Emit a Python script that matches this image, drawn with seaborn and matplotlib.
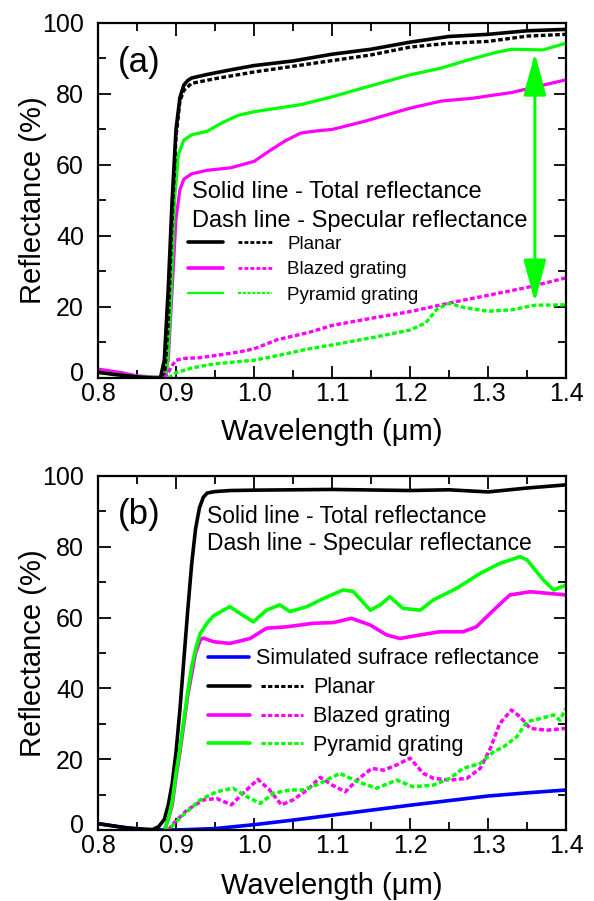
import matplotlib
matplotlib.use("Agg")
import matplotlib.pyplot as plt
import matplotlib.transforms as mtransforms
import seaborn as sns
from matplotlib.lines import Line2D
from matplotlib.legend_handler import HandlerTuple
from matplotlib.ticker import MultipleLocator, FormatStrFormatter

# =============================
# DATA
# =============================
# panel (a)
a_planar_tot_wl = [0.80, 0.82, 0.85, 0.87, 0.880, 0.885, 0.890, 0.895, 0.900, 0.905, 0.910, 0.915,
                   0.92, 0.94, 0.97, 1.00, 1.05, 1.10, 1.15, 1.20, 1.25, 1.30, 1.35, 1.40]
a_planar_tot = [1.6, 1.0, 0.3, 0.0, 0.0, 5, 25, 50, 70, 79, 82.5, 83.8,
                84.5, 85.5, 86.8, 88.0, 89.3, 91.2, 92.6, 94.6, 96.2, 96.8, 97.8, 98.2]

a_planar_spec_wl = [0.885, 0.890, 0.895, 0.900, 0.905, 0.910, 0.920, 0.950, 1.00, 1.05, 1.10,
                    1.15, 1.20, 1.25, 1.30, 1.35, 1.40]
a_planar_spec = [0, 15, 45, 68, 78, 81, 83, 84.3, 86.2, 87.8, 89.4, 91, 93.2, 94.3, 94.8, 96.3, 96.8]

a_blazed_tot_wl = [0.80, 0.83, 0.85, 0.87, 0.885, 0.890, 0.895, 0.900, 0.905, 0.910, 0.92, 0.94,
                   0.97, 1.00, 1.02, 1.04, 1.06, 1.08, 1.10, 1.14, 1.20, 1.24, 1.28, 1.33, 1.40]
a_blazed_tot = [2.5, 1.5, 0.6, 0.3, 0.2, 5, 25, 45, 53, 56, 57.5, 58.5,
                59.2, 61, 64, 66.8, 69, 69.6, 70, 72.2, 76, 78, 78.8, 80.4, 84]

a_blazed_spec_wl = [0.885, 0.890, 0.895, 0.90, 0.91, 0.93, 0.95, 0.98, 1.00, 1.03, 1.07, 1.10,
                    1.15, 1.20, 1.25, 1.30, 1.35, 1.40]
a_blazed_spec = [0, 1.5, 3.5, 5, 5.5, 5.7, 6.3, 7.3, 8.2, 10.8, 12.8, 14.8,
                 16.8, 18.7, 21.1, 23.3, 25.5, 28.2]

a_pyramid_tot_wl = [0.80, 0.85, 0.88, 0.888, 0.893, 0.898, 0.903, 0.91, 0.92, 0.94, 0.96, 0.98,
                    1.00, 1.03, 1.06, 1.10, 1.14, 1.20, 1.24, 1.27, 1.31, 1.33, 1.37, 1.40]
a_pyramid_tot = [1.6, 0.4, 0.1, 1, 20, 50, 63, 67, 68.5, 69.5, 72, 74,
                 75, 76, 77, 79.2, 81.7, 85.4, 87.3, 89.3, 91.7, 92.6, 92.4, 94.3]

a_pyramid_spec_wl = [0.89, 0.90, 0.92, 0.95, 1.00, 1.03, 1.07, 1.10, 1.15, 1.20, 1.22, 1.235,
                     1.25, 1.27, 1.30, 1.33, 1.36, 1.40]
a_pyramid_spec = [0, 1.5, 2.8, 4.0, 5.0, 6.3, 8.2, 9.3, 11.3, 13.5, 15.5, 19.5,
                  21, 19.8, 18.8, 19.2, 20.5, 20.6]

# arrow marking the pyramid-grating diffuse part
arrow_wl = 1.36
arrow_low, arrow_high = 21.4, 91.5

# panel (b)
b_sim_wl = [0.80, 0.83, 0.86, 0.90, 0.95, 1.00, 1.05, 1.10, 1.15, 1.20, 1.25, 1.30, 1.35, 1.40]
b_sim = [1.8, 0.8, 0.1, 0.0, 0.4, 1.5, 2.8, 4.2, 5.6, 7.0, 8.3, 9.6, 10.5, 11.3]

b_planar_tot_wl = [0.80, 0.84, 0.87, 0.878, 0.885, 0.89, 0.895, 0.90, 0.905, 0.91, 0.915, 0.92,
                   0.925, 0.93, 0.935, 0.94, 0.95, 0.97, 1.00, 1.10, 1.20, 1.25, 1.30, 1.35, 1.40]
b_planar_tot = [1.8, 0.5, 0.1, 1, 3, 7, 13, 22, 34, 48, 62, 75,
                85, 91, 94, 95.2, 95.6, 95.9, 96.0, 96.2, 95.9, 96.1, 95.5, 96.6, 97.5]

b_blazed_tot_wl = [0.885, 0.89, 0.895, 0.90, 0.905, 0.91, 0.915, 0.92, 0.925, 0.931, 0.935, 0.948,
                   0.969, 0.995, 1.016, 1.042, 1.076, 1.102, 1.125, 1.149, 1.170, 1.187, 1.213,
                   1.238, 1.268, 1.285, 1.307, 1.328, 1.354, 1.40]
b_blazed_tot = [0, 3, 7, 15, 22, 30, 38, 44, 50, 53.7, 54.2, 53.2,
                52.7, 54.1, 57.0, 57.4, 58.4, 58.6, 59.8, 57.9, 55.1, 54.1, 55.1,
                56.0, 56.0, 57.4, 62.1, 66.4, 67.3, 66.4]

b_pyramid_tot_wl = [0.885, 0.89, 0.895, 0.90, 0.905, 0.91, 0.915, 0.92, 0.925, 0.931, 0.94, 0.948,
                    0.969, 0.982, 0.999, 1.016, 1.033, 1.046, 1.068, 1.089, 1.114, 1.127, 1.149,
                    1.162, 1.174, 1.191, 1.213, 1.230, 1.260, 1.290, 1.315, 1.341, 1.350, 1.371,
                    1.384, 1.40]
b_pyramid_tot = [0, 3, 8, 16, 23, 31, 39, 46, 51, 55.5, 58.5, 60.5,
                 63.1, 61.2, 58.8, 62.1, 63.6, 61.7, 63.1, 65.4, 67.8, 67.4, 62.1,
                 63.6, 65.9, 62.6, 62.1, 65.0, 68.3, 72.5, 75.3, 77.2, 76.3, 70.6,
                 67.8, 69.2]

b_blazed_spec_wl = [0.89, 0.897, 0.914, 0.935, 0.952, 0.971, 0.986, 1.005, 1.020, 1.035, 1.050,
                    1.068, 1.085, 1.100, 1.117, 1.132, 1.151, 1.166, 1.183, 1.200, 1.217, 1.230,
                    1.251, 1.273, 1.290, 1.303, 1.315, 1.330, 1.341, 1.354, 1.375, 1.40]
b_blazed_spec = [0, 1.9, 5.6, 8.5, 8.9, 7.1, 10.4, 14.3, 11.3, 7.1, 8.5,
                 11.3, 14.9, 12.7, 10.8, 14.1, 17.4, 16.9, 18.4, 20.3, 16.0, 14.6,
                 14.1, 14.6, 17.4, 23.1, 30.1, 33.9, 32.0, 28.7, 28.2, 28.7]

b_pyramid_spec_wl = [0.885, 0.892, 0.909, 0.931, 0.952, 0.973, 0.991, 1.008, 1.025, 1.046, 1.063,
                     1.085, 1.110, 1.132, 1.157, 1.183, 1.204, 1.230, 1.251, 1.268, 1.290, 1.307,
                     1.320, 1.337, 1.350, 1.367, 1.384, 1.392, 1.40]
b_pyramid_spec = [0, 0.5, 4.2, 8.5, 10.8, 11.8, 9.4, 7.5, 10.4, 11.3, 11.3,
                  13.2, 16.0, 13.7, 11.8, 14.1, 12.2, 12.7, 14.6, 17.4, 18.8, 22.1,
                  23.5, 26.4, 30.6, 31.5, 32.5, 31.0, 34.4]

BLACK, MAGENTA, GREEN, BLUE = "black", "#ff00ff", "#00ff00", "#0000ff"
DASH = (0, (1.4, 0.75))

# =============================
# STYLE
# =============================
sns.set_style("ticks")
plt.rcParams["font.family"] = ["Liberation Sans", "DejaVu Sans"]
for key in ["text.color", "axes.labelcolor", "xtick.color", "ytick.color", "axes.edgecolor"]:
    plt.rcParams[key] = "black"


def draw(ax, wl, r, color, lw, dashed=False):
    sns.lineplot(x=wl, y=r, ax=ax, color=color, lw=lw, estimator=None, sort=False,
                 linestyle=DASH if dashed else "-")


def style_axes(ax, label_y):
    ax.set_xlim(0.8, 1.4)
    ax.set_ylim(0, 100)
    ax.xaxis.set_major_locator(MultipleLocator(0.1))
    ax.xaxis.set_minor_locator(MultipleLocator(0.05))
    ax.yaxis.set_major_locator(MultipleLocator(20))
    ax.yaxis.set_minor_locator(MultipleLocator(10))
    ax.xaxis.set_major_formatter(FormatStrFormatter("%.1f"))
    ax.tick_params(which="both", direction="in", top=True, right=True, width=1.3,
                   labelsize=18, color="black")
    ax.tick_params(which="major", length=9)
    ax.tick_params(which="minor", length=6)
    ax.tick_params(axis="x", pad=3)
    ax.tick_params(axis="y", pad=10)
    for s in ax.spines.values():
        s.set_linewidth(1.6)
        s.set_color("black")
    ax.set_xlabel("Wavelength (\u03bcm)", fontsize=21)
    ax.set_ylabel("Reflectance (%)", fontsize=21)
    ax.xaxis.set_label_coords(0.5, label_y)
    ax.yaxis.set_label_coords(-0.108, 0.5)


def lift_zero_label(ax):
    # the "0" on the y axis sits a little higher so it clears the "0.8" below it
    for tick in ax.yaxis.get_major_ticks():
        if abs(tick.get_loc()) < 1e-9:
            lab = tick.label1
            lab.set_transform(lab.get_transform() +
                              mtransforms.ScaledTranslation(0, 5 / 72, fig.dpi_scale_trans))


fig = plt.figure(figsize=(5.94, 9.01), dpi=100)
ax_a = fig.add_axes([0.165, 0.5805, 0.788, 0.394])
ax_b = fig.add_axes([0.165, 0.0788, 0.788, 0.3929])

# --------------------------------------
# PANEL (a)
# --------------------------------------
draw(ax_a, a_blazed_tot_wl, a_blazed_tot, MAGENTA, 2.3)
draw(ax_a, a_pyramid_tot_wl, a_pyramid_tot, GREEN, 2.3)
draw(ax_a, a_planar_tot_wl, a_planar_tot, BLACK, 2.6)
draw(ax_a, a_planar_spec_wl, a_planar_spec, BLACK, 2.4, dashed=True)
draw(ax_a, a_blazed_spec_wl, a_blazed_spec, MAGENTA, 2.4, dashed=True)
draw(ax_a, a_pyramid_spec_wl, a_pyramid_spec, GREEN, 2.4, dashed=True)

ax_a.annotate("", xy=(arrow_wl, arrow_low), xytext=(arrow_wl, arrow_high),
              arrowprops=dict(arrowstyle="<|-|>,head_length=1.3,head_width=0.35",
                              mutation_scale=20, color=GREEN, lw=2.2,
                              shrinkA=0, shrinkB=0))
style_axes(ax_a, -0.114)
ax_a.text(0.088, 0.89, "(a)", transform=ax_a.transAxes, fontsize=25,
          ha="center", va="center")
ax_a.text(0.201, 0.507, "Solid line - Total reflectance", transform=ax_a.transAxes,
          fontsize=17, va="baseline")
ax_a.text(0.201, 0.425, "Dash line - Specular reflectance", transform=ax_a.transAxes,
          fontsize=17, va="baseline")

leg_a = [
    ((Line2D([], [], color=BLACK, lw=2.6), Line2D([], [], color=BLACK, lw=2.0, ls=DASH)), "Planar"),
    ((Line2D([], [], color=MAGENTA, lw=2.6), Line2D([], [], color=MAGENTA, lw=2.0, ls=DASH)), "Blazed grating"),
    ((Line2D([], [], color=GREEN, lw=1.6), Line2D([], [], color=GREEN, lw=1.6, ls=DASH)), "Pyramid grating"),
]
ax_a.legend([h for h, _ in leg_a], [t for _, t in leg_a],
            handler_map={tuple: HandlerTuple(ndivide=None, pad=0.8)},
            loc="upper left", bbox_to_anchor=(0.192, 0.401), borderaxespad=0, borderpad=0,
            frameon=False, fontsize=13.5, handlelength=4.5, handletextpad=0.8,
            labelspacing=0.45)

# --------------------------------------
# PANEL (b)
# --------------------------------------
draw(ax_b, b_sim_wl, b_sim, BLUE, 2.6)
draw(ax_b, b_planar_tot_wl, b_planar_tot, BLACK, 2.6)
draw(ax_b, b_blazed_tot_wl, b_blazed_tot, MAGENTA, 2.6)
draw(ax_b, b_pyramid_tot_wl, b_pyramid_tot, GREEN, 2.6)
draw(ax_b, b_blazed_spec_wl, b_blazed_spec, MAGENTA, 2.5, dashed=True)
draw(ax_b, b_pyramid_spec_wl, b_pyramid_spec, GREEN, 2.5, dashed=True)

style_axes(ax_b, -0.118)
ax_b.text(0.088, 0.89, "(b)", transform=ax_b.transAxes, fontsize=25,
          ha="center", va="center")
ax_b.text(0.233, 0.866, "Solid line - Total reflectance", transform=ax_b.transAxes,
          fontsize=16.5, va="baseline")
ax_b.text(0.233, 0.791, "Dash line - Specular reflectance", transform=ax_b.transAxes,
          fontsize=16.5, va="baseline")

sim_leg = ax_b.legend([Line2D([], [], color=BLUE, lw=2.6)], ["Simulated sufrace reflectance"],
                      loc="upper left", bbox_to_anchor=(0.235, 0.514), borderaxespad=0,
                      borderpad=0, frameon=False, fontsize=15.5, handlelength=1.9,
                      handletextpad=0.33)
ax_b.add_artist(sim_leg)

leg_b = [
    ((Line2D([], [], color=BLACK, lw=2.6), Line2D([], [], color=BLACK, lw=2.2, ls=DASH)), "Planar"),
    ((Line2D([], [], color=MAGENTA, lw=2.6), Line2D([], [], color=MAGENTA, lw=2.2, ls=DASH)), "Blazed grating"),
    ((Line2D([], [], color=GREEN, lw=2.6), Line2D([], [], color=GREEN, lw=2.2, ls=DASH)), "Pyramid grating"),
]
ax_b.legend([h for h, _ in leg_b], [t for _, t in leg_b],
            handler_map={tuple: HandlerTuple(ndivide=None, pad=0.5)},
            loc="upper left", bbox_to_anchor=(0.235, 0.432), borderaxespad=0, borderpad=0,
            frameon=False, fontsize=15.5, handlelength=4.4, handletextpad=0.5,
            labelspacing=0.37)

fig.canvas.draw()
lift_zero_label(ax_a)
lift_zero_label(ax_b)

fig.savefig("out.png", dpi=100)
